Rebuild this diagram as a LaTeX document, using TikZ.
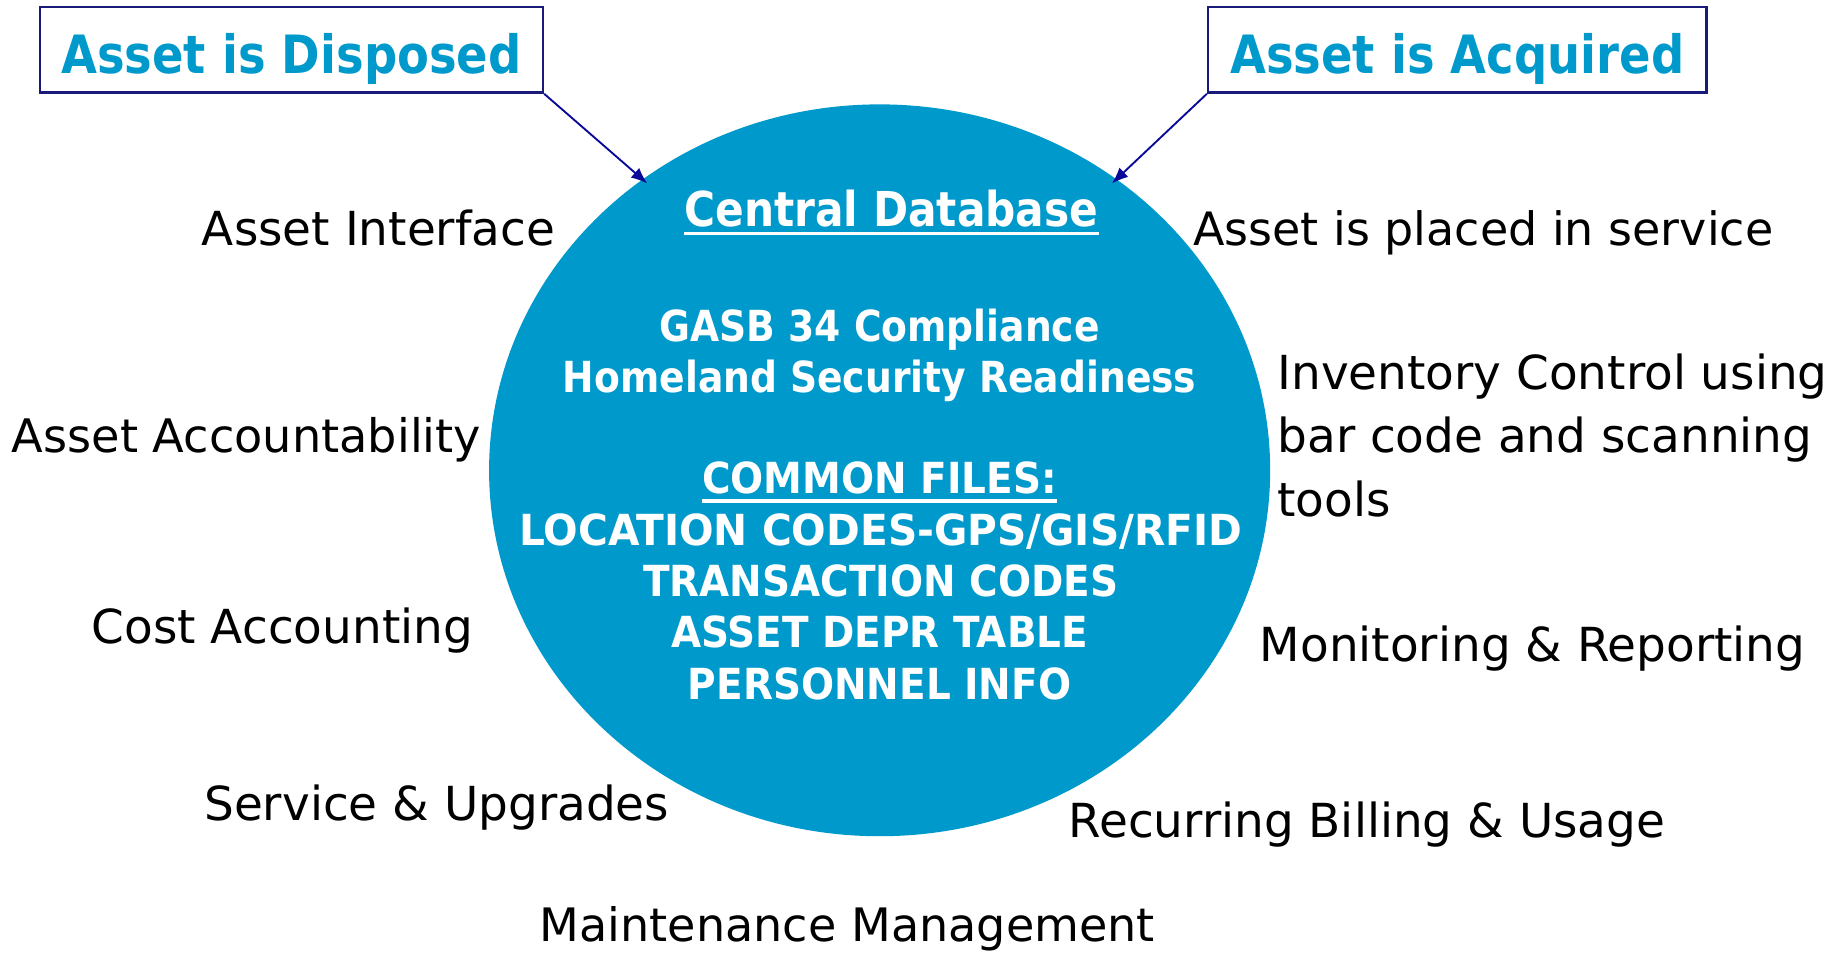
\documentclass[tikz,border=0pt]{standalone}
\usepackage{fontspec}
\setmainfont{DejaVu Sans}
\newfontfamily\fnarrow{DejaVu Sans}[FakeStretch=0.88]
\newfontfamily\fcaps{DejaVu Sans}[FakeStretch=0.95]
\newfontfamily\fcapsn{DejaVu Sans}[FakeStretch=0.91]
\usetikzlibrary{shapes.geometric,arrows.meta,calc}
\definecolor{dbblue}{HTML}{0099CC}
\definecolor{boxnavy}{HTML}{1A1A7A}
\definecolor{arrowblue}{HTML}{0A0A99}
\begin{document}
\begin{tikzpicture}[x=1pt,y=-1pt,
  lbl/.style={inner sep=0pt, anchor=base west, text=black, font=\fontsize{40}{54}\selectfont},
  titlebox/.style={draw=boxnavy, line width=2pt, inner sep=0pt, text=dbblue,
    text height=40pt, text depth=0pt, font=\fnarrow\bfseries\fontsize{45}{54}\selectfont},
  innertxt/.style={inner sep=0pt, anchor=base, text=white, font=\fnarrow\bfseries\fontsize{36.5}{44}\selectfont},
  capstxt/.style={inner sep=0pt, anchor=base, text=white, font=\fcaps\bfseries\fontsize{36.5}{44}\selectfont},
  capsn/.style={capstxt, font=\fcapsn\bfseries\fontsize{36.5}{44}\selectfont},
  uline/.style={draw=white, line width=3pt},
  conn/.style={draw=arrowblue, line width=1.6pt, -{Latex[length=14pt,width=11pt]}}]
\useasboundingbox (0,0) rectangle (1568,813.4);
% central database
\node[ellipse, fill=dbblue, inner sep=0pt, minimum width=666pt, minimum height=624pt] (db) at (750,401) {};
% title boxes
\node[titlebox, minimum width=429pt, minimum height=73pt] (dis) at (248.5,42.5) {Asset is Disposed};
\node[titlebox, minimum width=425pt, minimum height=73pt] (acq) at (1242.5,42.5) {Asset is Acquired};
\coordinate (tipl) at ($(db.center)!0.983!(db.129)$);
\coordinate (tipr) at ($(db.center)!0.983!(db.51)$);
\draw[conn] (dis.south east) -- (tipl);
\draw[conn] (acq.south west) -- (tipr);
% inner texts
\node[innertxt, font=\fnarrow\bfseries\fontsize{41}{48}\selectfont] (cdb) at (760,193) {Central Database};
\draw[uline] ([yshift=-6pt]cdb.base west) -- ([yshift=-6pt]cdb.base east);
\node[innertxt] (gasb) at (750,291) {GASB 34 Compliance};
\node[innertxt] (home) at (750,335) {Homeland Security Readiness};
\node[capsn] (cf) at (750,421) {COMMON FILES:};
\draw[uline] ([yshift=-6pt]cf.base west) -- ([yshift=-6pt]cf.base east);
\node[capstxt] (loc) at (751,465) {LOCATION CODES-GPS/GIS/RFID};
\node[capsn] (trc) at (751,509) {TRANSACTION CODES};
\node[capsn] (dep) at (750,552) {ASSET DEPR TABLE};
\node[capsn] (per) at (750,596) {PERSONNEL INFO};
% outer labels
\node[lbl] (ai) at (172,209) {Asset Interface};
\node[lbl, font=\fontsize{39.4}{54}\selectfont] (aa) at (10,386) {Asset Accountability};
\node[lbl] (ca) at (78,549) {Cost Accounting};
\node[lbl] (su) at (174,700) {Service \& Upgrades};
\node[lbl, font=\fontsize{39.3}{54}\selectfont] (mm) at (460,803) {Maintenance Management};
\node[lbl, font=\fontsize{39.2}{54}\selectfont] (ps) at (1017,209) {Asset is placed in service};
\node[lbl, align=left] (ic) at (1089,440) {Inventory Control using\\bar code and scanning\\tools};
\node[lbl] (mr) at (1074,564) {Monitoring \& Reporting};
\node[lbl] (rb) at (911,714) {Recurring Billing \& Usage};
\end{tikzpicture}
\end{document}
